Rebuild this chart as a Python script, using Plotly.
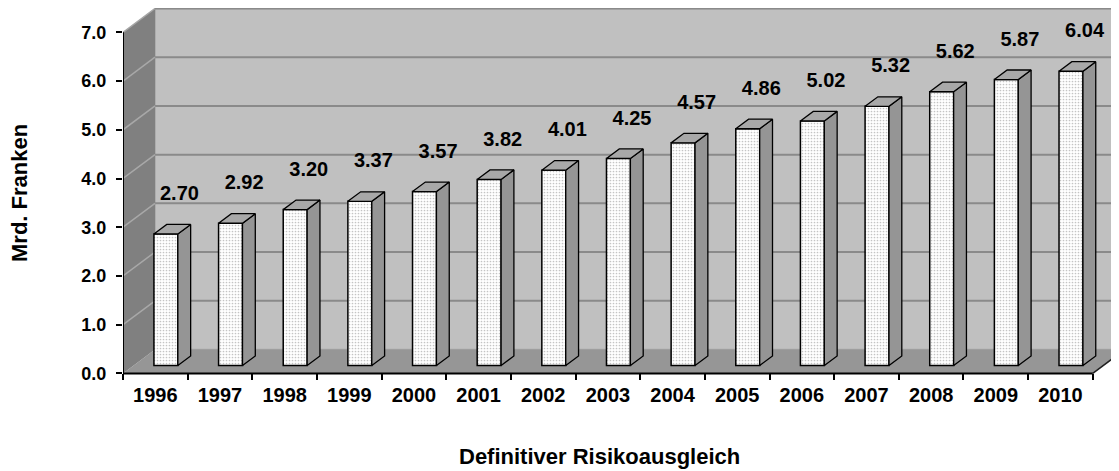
import plotly.graph_objects as go

# ---------------- data ----------------
years = ["1996", "1997", "1998", "1999", "2000", "2001", "2002", "2003",
         "2004", "2005", "2006", "2007", "2008", "2009", "2010"]
values = [2.70, 2.92, 3.20, 3.37, 3.57, 3.82, 4.01, 4.25,
          4.57, 4.86, 5.02, 5.32, 5.62, 5.87, 6.04]
y_ticks = [0, 1, 2, 3, 4, 5, 6, 7]
y_title = "Mrd. Franken"
x_title = "Definitiver Risikoausgleich"

# ---------------- geometry (pseudo-3D) ----------------
N = len(years)
YMAX = y_ticks[-1]
DX, DY = 0.495, 0.49        # depth offset of back wall (x in categories, y in values)
F1, F2 = 0.33, 0.73         # bar front / back depth fraction
BAR_W = 0.37
Y_MIN, Y_TOP = -0.3, 7.5
FIG_W, FIG_H = 1111, 463    # page body adds an 8px margin
ML, MT, MB = 115, 0, 83
PLOT_W = FIG_W - ML
PLOT_H = FIG_H - MT - MB
X_MAX = PLOT_W / 64.65

FONT = "Arial, Liberation Sans, sans-serif"

fig = go.Figure()

# front faces of bars
x_front = [i + 0.5 + F1 * DX for i in range(N)]
base = F1 * DY
fig.add_trace(go.Bar(
    x=x_front, y=values, base=base, width=BAR_W,
    marker=dict(color="white", line=dict(color="black", width=1.5),
                pattern=dict(shape=".", fgcolor="#c4c4c4", bgcolor="white",
                             size=3, solidity=0.25, fillmode="replace")),
    hoverinfo="skip"))

sdx, sdy = (F2 - F1) * DX, (F2 - F1) * DY
side_x, side_y, top_x, top_y = [], [], [], []
for xc, v in zip(x_front, values):
    xl, xr = xc - BAR_W / 2, xc + BAR_W / 2
    yt = v + base
    side_x += [xr, xr + sdx, xr + sdx, xr, xr, None]
    side_y += [base, base + sdy, yt + sdy, yt, base, None]
    top_x += [xl, xr, xr + sdx, xl + sdx, xl, None]
    top_y += [yt, yt, yt + sdy, yt + sdy, yt, None]

fig.add_trace(go.Scatter(x=side_x, y=side_y, mode="lines", fill="toself",
                         fillcolor="#959595", line=dict(color="black", width=1.3),
                         hoverinfo="skip"))
fig.add_trace(go.Scatter(x=top_x, y=top_y, mode="lines", fill="toself",
                         fillcolor="#a8a8a8", line=dict(color="black", width=1.3),
                         hoverinfo="skip"))

# value labels
fig.add_trace(go.Scatter(
    x=[xc + 0.21 for xc in x_front], y=[v + 0.96 for v in values],
    mode="text", text=[f"{v:.2f}" for v in values],
    textfont=dict(family=FONT, size=20, color="black", weight="bold"),
    textposition="middle center", hoverinfo="skip"))

# ---------------- walls / floor / grid ----------------
shapes = []
shapes.append(dict(type="rect", xref="x", yref="y", x0=DX, x1=N + DX, y0=DY, y1=YMAX + DY,
                   fillcolor="#c0c0c0", line=dict(color="#a6a6a6", width=1.5), layer="below"))
shapes.append(dict(type="path", xref="x", yref="y",
                   path=f"M 0,0 L {N},0 L {N + DX},{DY} L {DX},{DY} Z",
                   fillcolor="#969696", line=dict(width=0), layer="below"))
shapes.append(dict(type="path", xref="x", yref="y",
                   path=f"M 0,0 L 0,{YMAX} L {DX},{YMAX + DY} L {DX},{DY} Z",
                   fillcolor="#808080", line=dict(width=0), layer="below"))
for v in y_ticks[1:]:
    shapes.append(dict(type="line", xref="x", yref="y", x0=DX, x1=N + DX,
                       y0=v + DY, y1=v + DY, line=dict(color="#8a8a8a", width=2), layer="below"))
for v in y_ticks[1:-1]:
    shapes.append(dict(type="line", xref="x", yref="y", x0=0, x1=DX,
                       y0=v, y1=v + DY, line=dict(color="#a8a8a8", width=1.5), layer="below"))
shapes.append(dict(type="line", xref="x", yref="y", x0=0, x1=DX, y0=YMAX, y1=YMAX + DY,
                   line=dict(color="#a6a6a6", width=1.5), layer="below"))
# floor front edge, right edge, y axis line
shapes.append(dict(type="line", xref="x", yref="y", x0=0, x1=N, y0=0, y1=0,
                   line=dict(color="black", width=2)))
shapes.append(dict(type="line", xref="x", yref="y", x0=N, x1=N + DX, y0=0, y1=DY,
                   line=dict(color="#202020", width=1.5)))
shapes.append(dict(type="line", xref="x", yref="y", x0=0, x1=0, y0=0, y1=YMAX,
                   line=dict(color="black", width=2)))

axis_pos = (0 - Y_MIN) / (Y_TOP - Y_MIN)

fig.update_layout(
    width=FIG_W, height=FIG_H,
    margin=dict(l=ML, r=0, t=MT, b=MB),
    paper_bgcolor="white", plot_bgcolor="white",
    showlegend=False, shapes=shapes,
    xaxis=dict(range=[0, X_MAX], tickvals=[i + 0.5 for i in range(N)], ticktext=years,
               ticks="outside", ticklen=5, tickcolor="rgba(0,0,0,0)",
               showgrid=False, zeroline=False, showline=False,
               anchor="free", position=axis_pos, ticklabelstandoff=-1,
               tickfont=dict(family=FONT, size=20, color="black", weight="bold"),
               minor=dict(tickmode="array", tickvals=list(range(N + 1)), ticks="outside",
                          ticklen=6, tickwidth=1.5, tickcolor="black", showgrid=False)),
    yaxis=dict(range=[Y_MIN, Y_TOP], tickvals=y_ticks, tickformat=".1f",
               ticks="outside", ticklen=6, tickwidth=1.5, tickcolor="black",
               showgrid=False, zeroline=False, showline=False, ticklabelstandoff=6,
               tickfont=dict(family=FONT, size=18, color="black", weight="bold")),
    annotations=[
        dict(text=y_title, xref="paper", yref="paper",
             x=(12 - ML) / PLOT_W, y=(MT + PLOT_H - 185) / PLOT_H,
             xanchor="center", yanchor="middle", textangle=-90, showarrow=False,
             font=dict(family=FONT, size=22, color="black", weight="bold")),
        dict(text=x_title, xref="paper", yref="paper",
             x=(591 - ML) / PLOT_W, y=(MT + PLOT_H - 448) / PLOT_H,
             xanchor="center", yanchor="middle", showarrow=False,
             font=dict(family=FONT, size=22, color="black", weight="bold")),
    ],
)

fig.write_html("out.html")
